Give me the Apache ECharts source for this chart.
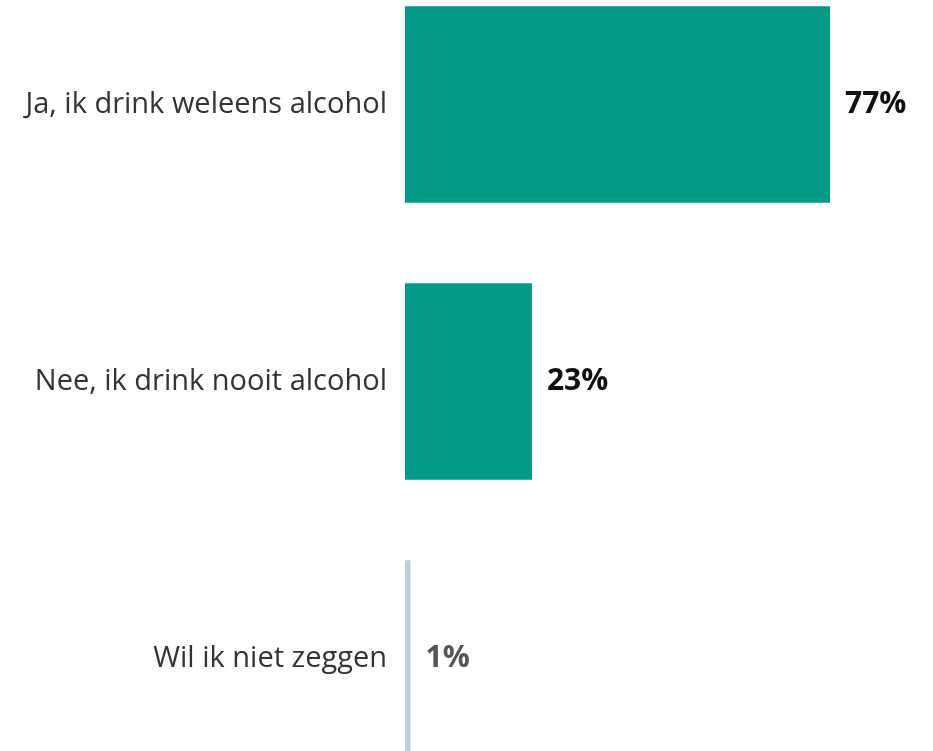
<!DOCTYPE html>
<html><head><meta charset="utf-8">
<script src="https://cdn.jsdelivr.net/npm/echarts@6/dist/echarts.min.js"></script>
<style>html,body{margin:0;padding:0;background:#fff}#c{width:933px;height:751px}</style>
</head><body><div id="c"></div>
<script>
const categories = ["Ja, ik drink weleens alcohol", "Nee, ik drink nooit alcohol", "Wil ik niet zeggen"];
const values = [77, 23, 1];
const barColors = ["#009a87", "#009a87", "#bccfdb"];
const labelColors = ["#111111", "#111111", "#555555"];

const chart = echarts.init(document.getElementById('c'));
chart.setOption({
  animation: false,
  grid: { left: 405, top: -34, width: 552, height: 831, outerBoundsMode: 'none', containLabel: false },
  xAxis: { type: 'value', min: 0, max: 100, show: false },
  yAxis: {
    type: 'category', inverse: true, data: categories,
    axisLine: { show: false }, axisTick: { show: false },
    axisLabel: { margin: 18, fontSize: 29, color: '#333333', fontFamily: 'Open Sans' }
  },
  series: [{
    type: 'bar', barWidth: '71%',
    data: values.map((v, i) => ({
      value: v,
      itemStyle: { color: barColors[i] },
      label: { color: labelColors[i] }
    })),
    label: {
      show: true, position: 'right', distance: 15,
      formatter: '{c}%', fontSize: 30, fontWeight: 'bold', fontFamily: 'Open Sans'
    }
  }]
});
</script></body></html>
